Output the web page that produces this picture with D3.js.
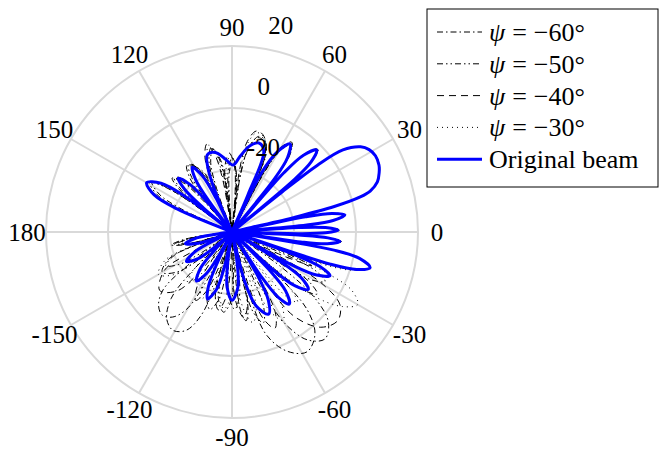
<!DOCTYPE html>
<html>
<head>
<meta charset="utf-8">
<script src="https://cdn.jsdelivr.net/npm/d3@7"></script>
<style>
  body { margin: 0; background: #fff; }
  text { font-family: "Liberation Serif", "Times New Roman", serif; fill: #000; }
</style>
</head>
<body>
<svg id="chart" width="664" height="450"></svg>
<script>
// Angular ticks (degrees) and radial ticks (dB)
const angleTicks = [0, 30, 60, 90, 120, 150, 180, -150, -120, -90, -60, -30];
const gainTicks = [-20, 0, 20];
const gainDomain = [-40, 20];

// Series labels, in legend order
const psiValues = [-60, -50, -40, -30];
const beamLabel = "Original beam";

// Original beam: [angle in degrees, gain in dB]
const originalBeam = [
  [-180,-40],[-175,-40],[-173.2,-37],[-170.5,-28.5],[-166,-24.5],[-161.5,-28.5],[-158.8,-37],[-157,-40],
  [-155,-35],[-152,-26.5],[-147,-22.5],[-141.5,-26.5],[-138.2,-35],[-136,-40],
  [-134,-33],[-131,-24.5],[-126,-20.5],[-121.5,-24.5],[-118.8,-33],[-117,-40],
  [-115.6,-29.5],[-113.5,-21],[-110,-17],[-105,-21],[-102,-29.5],[-100,-40],
  [-98,-30.5],[-95,-22],[-90,-18],[-84,-22],[-80.4,-30.5],[-78,-40],
  [-75.6,-23.5],[-72,-15],[-66,-11],[-62,-15],[-59.6,-23.5],[-58,-40],
  [-56.7,-23],[-54.7,-14.3],[-51.5,-10.3],[-47.7,-14.3],[-45.5,-23],[-44,-40],
  [-42.6,-22],[-40.5,-13.2],[-37,-9.2],[-33.5,-13.2],[-31.4,-22],[-30,-40],
  [-28.8,-18],[-27,-9.4],[-24,-5.4],[-21.5,-9.4],[-20,-18],[-19,-40],
  [-18.1,-6.6],[-16.7,2],[-14.5,6],[-11.7,2],[-10.1,-6.6],[-9,-40],
  [-8.2,-17.6],[-7,-9],[-5,-5],[-3.5,-9],[-2.6,-17.6],[-2,-40],
  [-1.4,-18.4],[-0.5,-9.8],[1,-5.8],[2.7,-9.8],[3.8,-18.4],[4.5,-40],
  [5.3,-15.8],[6.5,-7.2],[8.6,-3.2],[10.5,-7.2],[11.7,-15.8],[12.5,-40],
  [13.2,-20],[14,-6],[15.3,2.9],[16.5,6.5],[19,9.6],[22,11.2],[24.5,12.1],[28,12.4],[31,11.6],[33.5,9.8],[36.5,4.5],[38,-5],[38.6,-20],[39,-40],
  [40,-14.6],[41.5,-6],[44,-2],[47,-6],[48.8,-14.6],[50,-40],
  [51.3,-18.6],[53.3,-10],[56.6,-6],[60.3,-10],[63.5,-18.6],[66,-40],
  [66.8,-27],[68.5,-12],[73,-10],[78,-11.5],[84,-15.5],[89,-18.4],[95,-16.5],[100,-14.3],[104,-13.5],[108,-14],[111,-19],[113,-30],[114,-40],
  [115.3,-28],[117.8,-19.5],[121.6,-15.5],[124.8,-19.5],[126.7,-28],[128,-40],
  [129.4,-28],[131.5,-19.5],[135,-15.5],[138,-19.5],[139.8,-28],[141,-40],
  [142.8,-20.8],[145.5,-12.2],[150,-8.2],[154.5,-12.2],[157.2,-20.8],[160,-40],
  [180,-40]
];

// Front sector shared by the steered patterns (near broadside and main lobe)
const steeredFront = [
  [-9,-40],[-8.2,-17],[-7,-8.5],[-5,-4.6],[-3.5,-8.5],[-2.6,-17],[-2,-40],
  [-1.4,-18],[-0.5,-9.5],[1,-5.4],[2.7,-9.5],[3.8,-18],[4.5,-40],
  [5.3,-15.5],[6.5,-7],[8.6,-2.9],[10.5,-7],[11.7,-15.5],[12.5,-40],
  [13.2,-20],[14,-6],[15.3,3],[16.5,6.6],[19,9.7],[22,11.3],[24.5,12.2],[28,12.5],[31,11.7],[33.5,9.9],[36.5,4.6],[38,-5],[38.6,-20],[39,-40],
  [40,-14],[41.5,-5.5],[44,-1.6],[47,-5.5],[48.8,-14],[50,-40]
];

// psi = -60 deg
const psi60Back = [
  [-180,-40],[-175,-40],[-173,-32],[-171,-24],[-168,-20],[-165,-24],[-163.5,-32],[-162,-40],
  [-160,-27],[-157,-18],[-150,-14],[-144,-18],[-140,-27],[-137.5,-40],
  [-135.5,-22],[-132.5,-11],[-127,-5],[-121,-3],[-115,-5],[-110.5,-11],[-107.5,-22],[-106,-40],
  [-104.5,-27],[-101.5,-18],[-96,-14],[-90.5,-18],[-88,-27],[-86.5,-40],
  [-85.3,-22],[-83.5,-14],[-81,-11],[-78.5,-14],[-77,-22],[-76,-40],
  [-74.5,-20],[-71.5,-5],[-65,2.5],[-58,5.6],[-51,2.5],[-46,-5],[-43.5,-20],[-42,-40],
  [-40.8,-19],[-39,-10],[-36,-6],[-33,-10],[-31.2,-19],[-30,-40],
  [-28.8,-19],[-27,-10],[-24,-6],[-21.5,-10],[-20.2,-19],[-19.5,-40],
  [-18.6,-8],[-17,1],[-14.5,6],[-11.7,2],[-10.1,-6.6]
];
const psi60Upper = [
  [51.3,-18],[53.3,-9.5],[56,-6],[59.5,-9.5],[61.5,-18],[63,-40],
  [64.5,-23],[67,-12.5],[71,-8.8],[75,-8.5],[79,-12.5],[81.5,-21],[83,-40],
  [84,-29],[86,-20.5],[89,-16.5],[92.5,-20.5],[94.5,-29],[95.5,-40],
  [96.8,-25],[99,-16.5],[103,-12.5],[107,-16.5],[109.5,-25],[111,-40],
  [112.5,-26],[116,-18],[124,-14],[128,-18],[130,-26],[131.5,-40],
  [132.6,-26],[134.5,-18],[138,-14],[141,-18],[142.8,-26],[143.5,-40],
  [144.5,-22],[146,-13.5],[148,-9.5],[152.5,-13.5],[155.5,-22],[158,-40],
  [180,-40]
];

// psi = -50 deg
const psi50Back = [
  [-180,-40],[-175,-40],[-173,-33],[-171,-25],[-168,-21],[-165,-25],[-163.5,-33],[-162,-40],
  [-160.5,-28],[-158,-20],[-153,-16],[-148.5,-20],[-146,-28],[-144.5,-40],
  [-143,-22],[-140,-11],[-135,-6.5],[-130,-5],[-125,-6.5],[-120.5,-11],[-117.5,-22],[-116,-40],
  [-114.5,-27],[-111.5,-18],[-106,-14],[-101,-18],[-98.5,-27],[-97,-40],
  [-95.5,-27],[-92.5,-19],[-88,-15],[-83.5,-19],[-80.5,-27],[-79,-40],
  [-77.5,-22],[-75,-13],[-71,-9],[-67.5,-13],[-65.5,-22],[-64,-40],
  [-62.5,-20],[-60,-6],[-55,2.5],[-49,5.7],[-43,2.5],[-38.5,-6],[-35.5,-20],[-34,-40],
  [-32.8,-19],[-31,-10],[-28,-6],[-25,-10],[-23.2,-19],[-22,-40],
  [-18.8,-8],[-17,1],[-14.5,6],[-11.7,2],[-10.1,-6.6]
];
const psi50Upper = [
  [51.3,-17.8],[53.3,-9.3],[56.2,-5.8],[59.7,-9.3],[61.7,-17.8],[63.2,-40],
  [64.6,-22.5],[67.2,-12],[71,-8.3],[74.5,-8],[78.5,-12],[81.5,-20.5],[83.2,-40],
  [84.3,-28.5],[86.5,-20],[90,-16],[93.5,-20],[95.5,-28.5],[96.5,-40],
  [97.8,-24.5],[100,-16],[104,-12],[108,-16],[110.5,-24.5],[112,-40],
  [113.4,-26.5],[116.5,-18.2],[123,-14.2],[126.5,-18.2],[128.5,-26.5],[130,-40],
  [131.4,-27],[133.5,-18.5],[137,-14.5],[140,-18.5],[141.8,-27],[143,-40],
  [144.4,-21.5],[146.5,-13],[149,-9],[153.5,-13],[156.5,-21.5],[159,-40],
  [180,-40]
];

// psi = -40 deg
const psi40Back = [
  [-180,-40],[-175,-40],[-173,-34],[-171,-26],[-168,-22],[-165,-26],[-163.5,-34],[-162,-40],
  [-160,-33],[-158.5,-29],[-157,-33],[-155,-40],
  [-153.5,-25],[-150.5,-15],[-141,-10],[-133,-14],[-129,-24],[-127,-40],
  [-125.5,-28],[-122.5,-19],[-118,-15],[-113.5,-19],[-110.5,-28],[-109,-40],
  [-107,-27],[-104.5,-18.5],[-100,-14.5],[-95.5,-18.5],[-92.5,-27],[-91,-40],
  [-89,-24],[-86,-16],[-82,-12],[-78,-16],[-75.5,-24],[-74,-40],
  [-72.5,-19],[-70,-10],[-66,-6],[-62,-10],[-59.5,-19],[-58,-40],
  [-56.5,-20],[-53.5,-6],[-47,2],[-40,4.5],[-34,2],[-30,-6],[-27.5,-20],[-26,-40],
  [-25,-22],[-23,-12],[-21,-22],[-20,-40],
  [-18.6,-8],[-17,1.5],[-14.5,6],[-11.7,2],[-10.1,-6.6]
];
const psi40Upper = [
  [51.3,-17],[53.3,-8.5],[56.5,-5.2],[60,-8.5],[62,-17],[63.5,-40],
  [65,-21],[67.5,-11],[72.5,-7],[76.5,-6.5],[80.5,-10.5],[83,-19.5],[84.5,-40],
  [85.5,-27],[88,-18.5],[92,-14.5],[96,-18.5],[98,-27],[99,-40],
  [100,-23],[102.5,-14.5],[106,-10.5],[110,-14.5],[112,-23],[113.5,-40],
  [114.6,-27],[117,-18.5],[121,-14.5],[124.5,-18.5],[126.5,-27],[128,-40],
  [129.4,-27.5],[131.5,-19],[135,-15],[138,-19],[139.8,-27.5],[141,-40],
  [142.8,-21],[145.5,-12.5],[150,-8.5],[154.5,-12.5],[157.2,-21],[160,-40],
  [180,-40]
];

// psi = -30 deg
const psi30Back = [
  [-180,-40],[-175,-40],[-173,-35],[-171,-27],[-168,-23],[-165,-27],[-163.5,-35],[-162,-40],
  [-160.5,-25],[-157,-16.5],[-150,-12.6],[-144,-16.5],[-141,-25],[-139,-40],
  [-137.5,-30],[-135,-22],[-131,-18],[-127,-22],[-124.5,-30],[-123,-40],
  [-121.5,-28],[-119,-20],[-115,-16],[-110.5,-20],[-108,-28],[-106,-40],
  [-104,-27],[-101,-19],[-96,-15],[-91,-19],[-88,-27],[-86,-40],
  [-84,-22],[-81,-14],[-77,-10],[-72.5,-14],[-70,-22],[-68,-40],
  [-66.5,-19],[-64,-11],[-60,-7],[-56,-11],[-53.5,-19],[-52,-40],
  [-51,-21],[-50,-13],[-47,-9],[-44.5,-13],[-43,-21],[-42,-40],
  [-40.5,-20],[-38,-6],[-34,3],[-30,6.8],[-26,3],[-23.5,-6],[-22,-20],[-21,-40],
  [-19.5,-8],[-17.5,1],[-14.5,6],[-11.7,2],[-10.1,-6.6]
];
const psi30Upper = [
  [51.3,-17.5],[53.3,-9],[56,-5.4],[59.5,-9],[61.5,-17.5],[63,-40],
  [64.5,-22],[67,-11.5],[72,-7.5],[76,-7],[80,-11],[82.5,-20],[84,-40],
  [85,-28],[87,-19],[91,-15],[95,-19],[97,-28],[98,-40],
  [99.2,-24],[101.5,-15],[105,-11],[109,-15],[111.5,-24],[113,-40],
  [114.3,-27],[117,-18.5],[121,-14.5],[124.5,-18.5],[126.5,-27],[128,-40],
  [129.4,-27.5],[131.5,-19],[135,-15],[138,-19],[139.8,-27.5],[141,-40],
  [142.8,-21],[145.5,-12.5],[150,-8.5],[154.5,-12.5],[157.2,-21],[160,-40],
  [180,-40]
];

// Pattern styles in legend order
const series = [
  { psi: psiValues[0], data: [...psi60Back, ...steeredFront, ...psi60Upper], dash: "6,3,1.5,3" },
  { psi: psiValues[1], data: [...psi50Back, ...steeredFront, ...psi50Upper], dash: "6,3,1.5,3,1.5,3" },
  { psi: psiValues[2], data: [...psi40Back, ...steeredFront, ...psi40Upper], dash: "7,5" },
  { psi: psiValues[3], data: [...psi30Back, ...steeredFront, ...psi30Upper], dash: "1,4" }
];

const svg = d3.select("#chart");
const cx = 232, cy = 232, outerR = 186;

const r = d3.scaleLinear().domain(gainDomain).range([0, outerR]).clamp(true);
const toRad = deg => (90 - deg) * Math.PI / 180;

const g = svg.append("g").attr("transform", `translate(${cx},${cy})`);

// Grid: circles and spokes
const gridColor = "#d9d9d9";
g.selectAll("circle.grid").data(gainTicks).join("circle")
  .attr("r", d => r(d)).attr("fill", "none")
  .attr("stroke", gridColor).attr("stroke-width", 2);

g.selectAll("line.spoke").data(angleTicks).join("line")
  .attr("x1", 0).attr("y1", 0)
  .attr("x2", d => outerR * Math.sin(toRad(d)))
  .attr("y2", d => -outerR * Math.cos(toRad(d)))
  .attr("stroke", gridColor).attr("stroke-width", 2);

// Angle labels
const labelR = 205;
g.selectAll("text.angle").data(angleTicks).join("text")
  .attr("x", d => labelR * Math.sin(toRad(d)))
  .attr("y", d => -labelR * Math.cos(toRad(d)))
  .attr("text-anchor", "middle")
  .attr("dominant-baseline", "central")
  .style("font-size", "25px")
  .text(d => d);

// Pattern curves
const radial = d3.lineRadial()
  .angle(d => toRad(d[0]))
  .radius(d => r(Math.max(d[1], gainDomain[0])))
  .curve(d3.curveCatmullRom.alpha(0.5));

g.selectAll("path.steered").data(series).join("path")
  .attr("d", d => radial(d.data))
  .attr("fill", "none").attr("stroke", "#000")
  .attr("stroke-width", 1).attr("stroke-dasharray", d => d.dash);

g.append("path")
  .attr("d", radial(originalBeam))
  .attr("fill", "none").attr("stroke", "#0000ff")
  .attr("stroke-width", 3).attr("stroke-linejoin", "round");

// Radial tick labels
const labelAngle = toRad(80);
g.selectAll("text.gain").data(gainTicks).join("text")
  .attr("x", d => r(d) * Math.sin(labelAngle) + 4)
  .attr("y", d => -r(d) * Math.cos(labelAngle) - 15)
  .style("font-size", "25px")
  .text(d => d);

// Legend
const legend = svg.append("g").attr("transform", "translate(427,9)");
legend.append("rect").attr("width", 231).attr("height", 178)
  .attr("fill", "#fff").attr("stroke", "#000").attr("stroke-width", 1);

const rowY = i => 23 + i * 31.8;
series.forEach((s, i) => {
  legend.append("line").attr("x1", 10).attr("x2", 55)
    .attr("y1", rowY(i)).attr("y2", rowY(i))
    .attr("stroke", "#000").attr("stroke-width", 1).attr("stroke-dasharray", s.dash);
  const t = legend.append("text").attr("x", 62).attr("y", rowY(i))
    .attr("dominant-baseline", "central").style("font-size", "26px");
  t.append("tspan").style("font-style", "italic").text("ψ");
  t.append("tspan").attr("dx", 7).text("=");
  t.append("tspan").attr("dx", 7).text("−" + Math.abs(s.psi) + "°");
});
legend.append("line").attr("x1", 10).attr("x2", 55)
  .attr("y1", rowY(4)).attr("y2", rowY(4))
  .attr("stroke", "#0000ff").attr("stroke-width", 3);
legend.append("text").attr("x", 62).attr("y", rowY(4))
  .attr("dominant-baseline", "central").style("font-size", "26px")
  .text(beamLabel);
</script>
</body>
</html>
